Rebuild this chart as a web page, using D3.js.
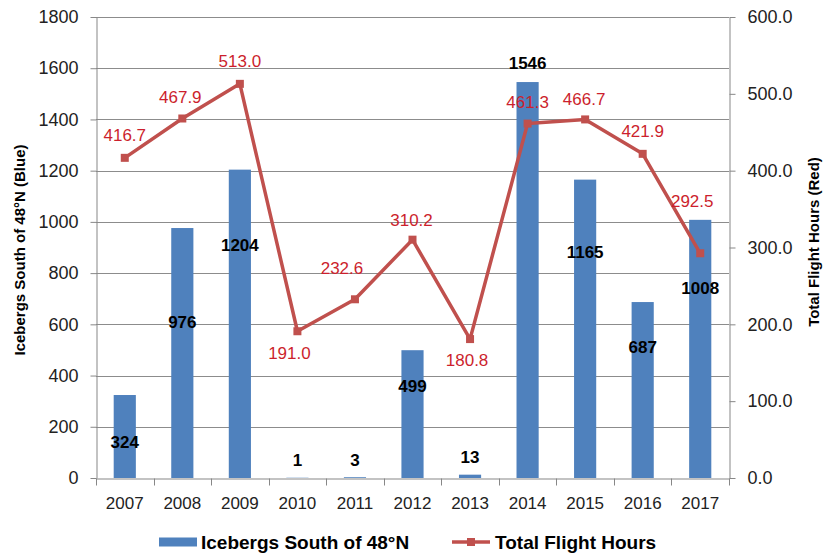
<!DOCTYPE html>
<html>
<head>
<meta charset="utf-8">
<script src="https://cdn.jsdelivr.net/npm/d3@7"></script>
<style>
  body { margin: 0; background: #fff; }
  svg { display: block; }
  text { font-family: "Liberation Sans", Arial, sans-serif; }
</style>
</head>
<body>
<svg id="chart" width="832" height="556"></svg>
<script>
// Season data
const years = ["2007", "2008", "2009", "2010", "2011", "2012", "2013", "2014", "2015", "2016", "2017"];
const icebergs = [324, 976, 1204, 1, 3, 499, 13, 1546, 1165, 687, 1008];
const flightHours = [416.7, 467.9, 513.0, 191.0, 232.6, 310.2, 180.8, 461.3, 466.7, 421.9, 292.5];
const leftTicks = [0, 200, 400, 600, 800, 1000, 1200, 1400, 1600, 1800];
const rightTicks = [0, 100, 200, 300, 400, 500, 600];

// Label nudges (px) that keep the value labels clear of the line
const barLabelShift = [47, 94, 75, -18, -17, 36, -18, -19, 72, 45, 68];
const lineLabelShift = [[0, -23], [-2, -22], [0, -23], [-8, 22], [-13, -31], [-1, -20],
                        [-3, 21], [0, -22], [-1, -21], [0, -23], [-8, -52]];

const svg = d3.select("#chart");
const plot = { left: 96, right: 729, top: 17, bottom: 478 };

const x = d3.scaleBand().domain(years).range([plot.left, plot.right]).padding(0);
const yL = d3.scaleLinear().domain([0, 1800]).range([plot.bottom, plot.top]);
const yR = d3.scaleLinear().domain([0, 600]).range([plot.bottom, plot.top]);

const axisColor = "#878787";
const gridColor = "#8c8c8c";
const barColor = "#4f81bd";
const lineColor = "#c0504d";
const lineLabelColor = "#cc1f2d";

// Horizontal gridlines
svg.append("g").selectAll("line").data(leftTicks.filter(d => d > 0)).join("line")
  .attr("x1", plot.left).attr("x2", plot.right)
  .attr("y1", d => Math.round(yL(d)) + 0.5).attr("y2", d => Math.round(yL(d)) + 0.5)
  .attr("stroke", gridColor).attr("stroke-width", 1);

// Bars
const barW = x.bandwidth() * 0.385;
svg.append("g").selectAll("rect").data(icebergs).join("rect")
  .attr("x", (d, i) => x(years[i]) + x.bandwidth() / 2 - barW / 2)
  .attr("width", barW)
  .attr("y", d => yL(d))
  .attr("height", d => plot.bottom - yL(d))
  .attr("fill", barColor);

// Left axis
const gL = svg.append("g")
  .attr("transform", `translate(${plot.left + 0.5},0)`)
  .call(d3.axisLeft(yL).tickValues(leftTicks).tickFormat(d3.format("d"))
    .tickSize(6).tickPadding(12).tickSizeOuter(0));
gL.select(".domain").attr("stroke", axisColor);
gL.selectAll(".tick line").attr("stroke", axisColor);
gL.selectAll(".tick text").attr("font-size", 18).attr("fill", "#222")
  .style("font-family", "Liberation Sans, Arial, sans-serif");

// Right axis
const gR = svg.append("g")
  .attr("transform", `translate(${plot.right + 0.5},0)`)
  .call(d3.axisRight(yR).tickValues(rightTicks).tickFormat(d3.format(".1f"))
    .tickSize(6).tickPadding(12).tickSizeOuter(0));
gR.select(".domain").attr("stroke", axisColor);
gR.selectAll(".tick line").attr("stroke", axisColor);
gR.selectAll(".tick text").attr("font-size", 18).attr("fill", "#222")
  .style("font-family", "Liberation Sans, Arial, sans-serif");

// Bottom axis: category labels centred, tick marks on category boundaries
const gB = svg.append("g")
  .attr("transform", `translate(0,${plot.bottom + 0.5})`)
  .call(d3.axisBottom(x).tickSize(0).tickPadding(18).tickSizeOuter(0));
gB.select(".domain").attr("stroke", axisColor);
gB.selectAll(".tick text").attr("font-size", 17).attr("fill", "#222")
  .style("font-family", "Liberation Sans, Arial, sans-serif");
const bounds = years.map(d => x(d)).concat([plot.right]);
gB.selectAll(".bound").data(bounds).join("line").attr("class", "bound")
  .attr("x1", d => Math.round(d) + 0.5).attr("x2", d => Math.round(d) + 0.5)
  .attr("y1", 0).attr("y2", 7)
  .attr("stroke", axisColor);

// Bar value labels
svg.append("g").selectAll("text").data(icebergs).join("text")
  .attr("x", (d, i) => x(years[i]) + x.bandwidth() / 2)
  .attr("y", (d, i) => yL(d) + barLabelShift[i])
  .attr("dy", "0.36em")
  .attr("text-anchor", "middle")
  .attr("font-size", 17).attr("font-weight", "bold").attr("fill", "#000")
  .text(d => d);

// Flight hours line
const cx = i => x(years[i]) + x.bandwidth() / 2;
const line = d3.line().x((d, i) => cx(i)).y(d => yR(d));
svg.append("path").datum(flightHours)
  .attr("d", line)
  .attr("fill", "none").attr("stroke", lineColor).attr("stroke-width", 3.5)
  .attr("stroke-linejoin", "round");

const ms = 8;
svg.append("g").selectAll("rect").data(flightHours).join("rect")
  .attr("x", (d, i) => cx(i) - ms / 2)
  .attr("y", d => yR(d) - ms / 2)
  .attr("width", ms).attr("height", ms)
  .attr("fill", lineColor);

svg.append("g").selectAll("text").data(flightHours).join("text")
  .attr("x", (d, i) => cx(i) + lineLabelShift[i][0])
  .attr("y", (d, i) => yR(d) + lineLabelShift[i][1])
  .attr("dy", "0.36em")
  .attr("text-anchor", "middle")
  .attr("font-size", 17).attr("fill", lineLabelColor)
  .text(d => d3.format(".1f")(d));

// Axis titles
svg.append("text")
  .attr("transform", "translate(20,250) rotate(-90)")
  .attr("text-anchor", "middle").attr("dy", "0.36em")
  .attr("font-size", 15).attr("font-weight", "bold").attr("fill", "#000")
  .text("Icebergs South of 48°N (Blue)");

svg.append("text")
  .attr("transform", "translate(814,242) rotate(-90)")
  .attr("text-anchor", "middle").attr("dy", "0.36em")
  .attr("font-size", 15).attr("font-weight", "bold").attr("fill", "#000")
  .text("Total Flight Hours (Red)");

// Legend
const legY = 542;
const leg = svg.append("g");
leg.append("rect").attr("x", 159).attr("y", legY - 4.5).attr("width", 38).attr("height", 9)
  .attr("fill", barColor);
leg.append("text").attr("x", 201).attr("y", legY).attr("dy", "0.36em")
  .attr("font-size", 19).attr("font-weight", "bold").attr("fill", "#000")
  .text("Icebergs South of 48°N");
leg.append("line").attr("x1", 452).attr("x2", 490).attr("y1", legY).attr("y2", legY)
  .attr("stroke", lineColor).attr("stroke-width", 3.5);
leg.append("rect").attr("x", 471 - ms / 2).attr("y", legY - ms / 2).attr("width", ms).attr("height", ms)
  .attr("fill", lineColor);
leg.append("text").attr("x", 495).attr("y", legY).attr("dy", "0.36em")
  .attr("font-size", 19).attr("font-weight", "bold").attr("fill", "#000")
  .text("Total Flight Hours");
</script>
</body>
</html>
